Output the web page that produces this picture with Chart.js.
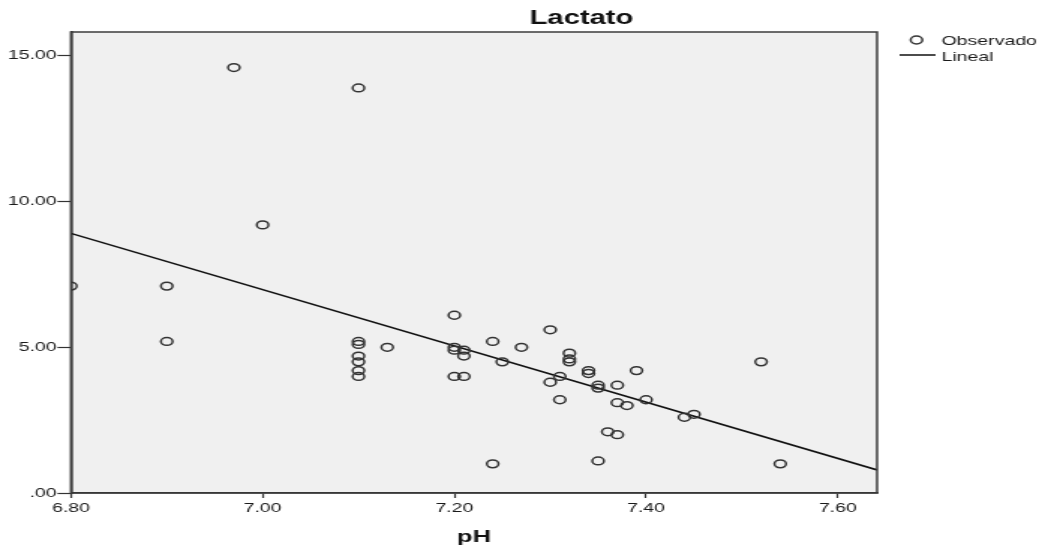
<!DOCTYPE html>
<html>
<head>
    <title>Lactato vs pH</title>
    <script src="https://cdn.jsdelivr.net/npm/chart.js"></script>
    <style>
        body { margin: 0; background: #fff; }
        /* canvas is drawn narrow and stretched sideways, like the exported SPSS picture */
        #lactatoChart { width: 1045px !important; height: 546px !important; display: block; }
    </style>
</head>
<body>
    <canvas id="lactatoChart" width="697" height="546"></canvas>
    <script>
        // observed cases
        const phValues = [6.80, 6.90, 6.90, 6.97, 7.00, 7.10, 7.10, 7.10, 7.10, 7.10, 7.10, 7.10,
            7.13, 7.20, 7.20, 7.20, 7.20, 7.21, 7.21, 7.21, 7.24, 7.24, 7.25, 7.27,
            7.30, 7.30, 7.31, 7.31, 7.32, 7.32, 7.32, 7.34, 7.34, 7.35, 7.35, 7.35,
            7.36, 7.37, 7.37, 7.37, 7.38, 7.39, 7.40, 7.44, 7.45, 7.52, 7.54];
        const lactatoValues = [7.1, 7.1, 5.2, 14.6, 9.2, 13.9, 5.2, 5.1, 4.7, 4.5, 4.2, 4.0,
            5.0, 6.1, 5.0, 4.9, 4.0, 4.9, 4.7, 4.0, 5.2, 1.0, 4.5, 5.0,
            5.6, 3.8, 4.0, 3.2, 4.8, 4.6, 4.5, 4.2, 4.1, 3.7, 3.6, 1.1,
            2.1, 3.7, 3.1, 2.0, 3.0, 4.2, 3.2, 2.6, 2.7, 4.5, 1.0];

        // linear fit, ends of the line at the axis limits
        const fitPh = [6.80, 7.641];
        const fitLactato = [8.91, 0.79];

        const xTickValues = [6.80, 7.00, 7.20, 7.40, 7.60];
        const yTickValues = [0, 5, 10, 15];

        const chartTitle = 'Lactato';
        const xTitle = 'pH';
        const legendLabels = ['Observado', 'Lineal'];

        const FONT = 'Arial, "Liberation Sans", sans-serif';
        const markColor = '#333';

        // plot background, frame, title and legend
        const spssFrame = {
            id: 'spssFrame',
            beforeDraw(chart) {
                const { ctx, chartArea: a } = chart;
                ctx.save();
                ctx.fillStyle = '#f0f0f0';
                ctx.fillRect(a.left, a.top, a.right - a.left, a.bottom - a.top);
                ctx.restore();
            },
            afterDraw(chart) {
                const { ctx, chartArea: a } = chart;
                ctx.save();
                ctx.strokeStyle = '#3c3c3c';
                ctx.lineWidth = 1.5;
                ctx.strokeRect(a.left, a.top, a.right - a.left, a.bottom - a.top);

                ctx.fillStyle = '#111';
                ctx.textBaseline = 'middle';
                ctx.textAlign = 'center';
                ctx.font = 'bold 19.5px ' + FONT;
                ctx.fillText(chartTitle, 387.8, 18.5);

                // legend
                ctx.strokeStyle = markColor;
                ctx.lineWidth = 1.5;
                ctx.beginPath();
                ctx.arc(611.3, 40, 3.9, 0, Math.PI * 2);
                ctx.stroke();
                ctx.strokeStyle = '#111';
                ctx.beginPath();
                ctx.moveTo(600, 55);
                ctx.lineTo(624, 55);
                ctx.stroke();
                ctx.textAlign = 'left';
                ctx.font = '13px ' + FONT;
                ctx.fillStyle = '#1a1a1a';
                ctx.fillText(legendLabels[0], 628, 41);
                ctx.fillText(legendLabels[1], 628, 57.5);
                ctx.restore();
            }
        };

        const ctx = document.getElementById('lactatoChart').getContext('2d');
        new Chart(ctx, {
            type: 'scatter',
            data: {
                datasets: [
                    {
                        label: legendLabels[0],
                        data: phValues.map((ph, i) => ({ x: ph, y: lactatoValues[i] })),
                        pointStyle: 'circle',
                        pointRadius: 3.9,
                        pointBorderWidth: 1.5,
                        pointBorderColor: markColor,
                        pointBackgroundColor: 'rgba(0,0,0,0)',
                        pointHoverRadius: 3.9,
                        clip: 0
                    },
                    {
                        label: legendLabels[1],
                        type: 'line',
                        data: fitPh.map((ph, i) => ({ x: ph, y: fitLactato[i] })),
                        borderColor: '#111',
                        borderWidth: 1.6,
                        pointRadius: 0,
                        fill: false,
                        clip: 0
                    }
                ]
            },
            options: {
                responsive: false,
                devicePixelRatio: 1,
                animation: false,
                events: [],
                layout: { padding: { left: 0, right: 112, top: 32, bottom: 0 } },
                plugins: {
                    legend: { display: false },
                    title: { display: false },
                    tooltip: { enabled: false }
                },
                scales: {
                    x: {
                        type: 'linear',
                        min: 6.80,
                        max: 7.641,
                        afterBuildTicks: scale => { scale.ticks = xTickValues.map(v => ({ value: v })); },
                        afterFit: scale => { scale.height = 53; },
                        border: { color: '#2a2a2a', width: 1.6 },
                        grid: { drawOnChartArea: false, drawTicks: true, tickLength: 5, tickColor: '#333', tickWidth: 1.2 },
                        ticks: {
                            padding: 3,
                            color: '#1a1a1a',
                            font: { family: FONT, size: 13 },
                            maxRotation: 0,
                            callback: v => v.toFixed(2)
                        },
                        title: {
                            display: true,
                            text: xTitle,
                            color: '#111',
                            font: { family: FONT, size: 17, weight: 'bold', lineHeight: 1 },
                            padding: { top: 4, bottom: 0.5 }
                        }
                    },
                    y: {
                        type: 'linear',
                        min: 0,
                        max: 15.82,
                        afterBuildTicks: scale => { scale.ticks = yTickValues.map(v => ({ value: v })); },
                        afterFit: scale => { scale.width = 47.3; },
                        border: { color: '#2a2a2a', width: 1.6 },
                        grid: { drawOnChartArea: false, drawTicks: true, tickLength: 9, tickColor: '#333', tickWidth: 1.2 },
                        ticks: {
                            padding: 0.5,
                            color: '#1a1a1a',
                            font: { family: FONT, size: 13 },
                            callback: v => v === 0 ? '.00' : v.toFixed(2)
                        }
                    }
                }
            },
            plugins: [spssFrame]
        });
    </script>
</body>
</html>
